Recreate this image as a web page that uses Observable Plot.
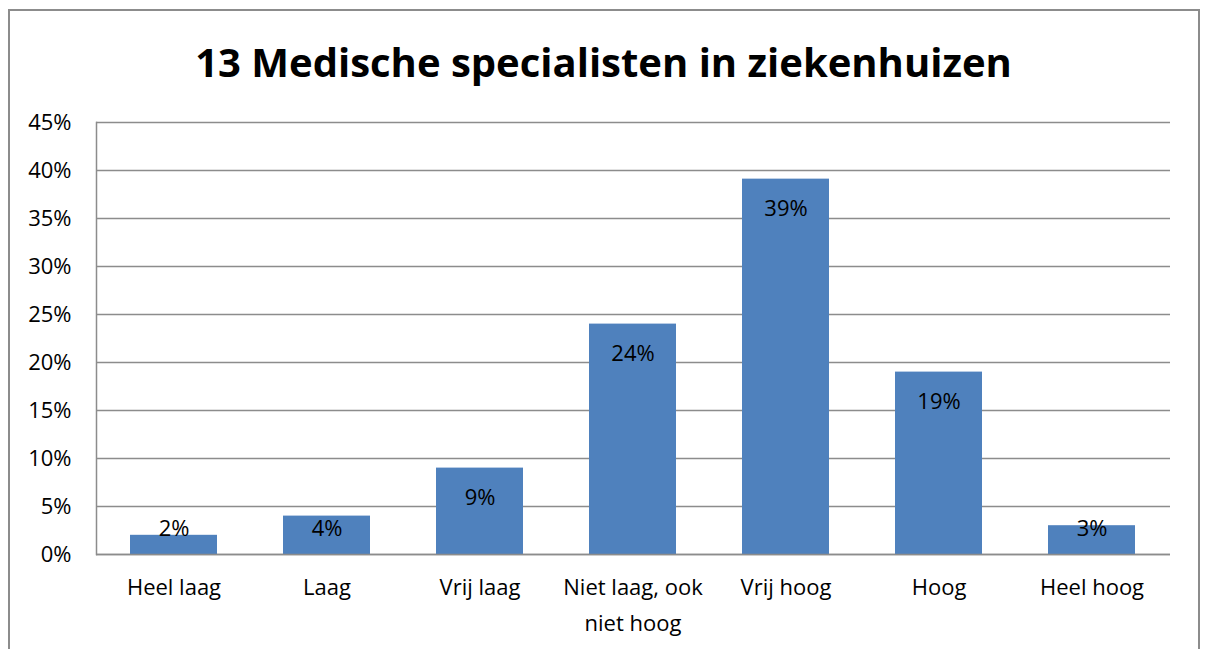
<!DOCTYPE html>
<html>
<head>
<meta charset="utf-8">
<script src="https://cdn.jsdelivr.net/npm/d3@7"></script>
<script src="https://cdn.jsdelivr.net/npm/@observablehq/plot@0.6"></script>
<style>
  html, body { margin: 0; padding: 0; background: #fff; width: 1207px; height: 649px; overflow: hidden; }
  #frame { position: absolute; left: 8px; top: 9px; width: 1192px; height: 700px; border: 2px solid #8c8c8c; box-sizing: border-box; }
  #title { position: absolute; left: 0; top: 37px; width: 1207px; text-align: center; font-family: "Open Sans", sans-serif; font-weight: bold; font-size: 40px; line-height: 50px; color: #000; }
  #chart { position: absolute; left: 0; top: 100px; }
  #chart svg { font-family: "Open Sans", sans-serif; }
</style>
</head>
<body>
<div id="frame"></div>
<div id="title">13 Medische specialisten in ziekenhuizen</div>
<div id="chart"></div>
<script>
const categories = ["Heel laag", "Laag", "Vrij laag", "Niet laag, ook niet hoog", "Vrij hoog", "Hoog", "Heel hoog"];
const values = [2, 4, 9, 24, 39.1, 19, 3];
const valueLabels = ["2%", "4%", "9%", "24%", "39%", "19%", "3%"];
const yTicks = [0, 5, 10, 15, 20, 25, 30, 35, 40, 45];
const xLabelLines = {"Niet laag, ook niet hoog": "Niet laag, ook\nniet hoog"};

const data = categories.map((c, i) => ({cat: c, value: values[i], label: valueLabels[i]}));

const plot = Plot.plot({
  width: 1207,
  height: 549,
  marginLeft: 96,
  marginRight: 37,
  marginTop: 22,
  marginBottom: 95,
  x: {domain: categories, paddingInner: 0.43, paddingOuter: 0.215},
  y: {domain: [0, 45], ticks: yTicks},
  style: {fontSize: "22px", color: "#000", background: "transparent"},
  marks: [
    Plot.gridY(yTicks, {stroke: "#8c8c8c", strokeOpacity: 1, strokeWidth: 1.5}),
    Plot.frame({anchor: "left", stroke: "#8c8c8c", strokeWidth: 1.5}),
    Plot.barY(data, {x: "cat", y: "value", fill: "#4F81BD"}),
    Plot.ruleY([0], {stroke: "#8c8c8c", strokeWidth: 1.5}),
    Plot.text(data, {x: "cat", y: d => Math.max(d.value, 5.83), text: "label", dy: 30, fontSize: 22, fill: "#000"}),
    Plot.axisY({ticks: yTicks, tickSize: 0, tickPadding: 25, tickFormat: d => d + "%", fontSize: 22, label: null}),
    Plot.axisX({tickSize: 0, tickPadding: 16, tickFormat: d => xLabelLines[d] || d, lineHeight: 1.6, fontSize: 22, label: null})
  ]
});
document.getElementById("chart").appendChild(plot);
</script>
</body>
</html>
